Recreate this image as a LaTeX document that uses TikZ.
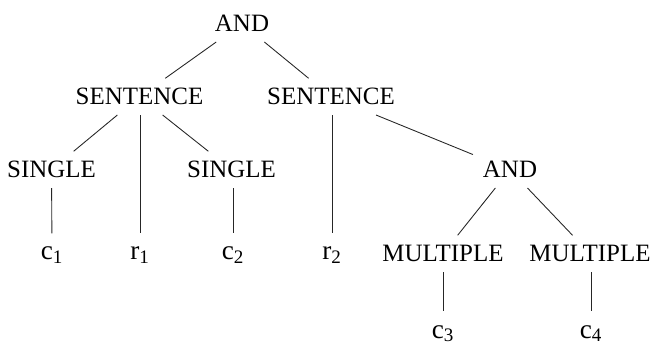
\documentclass[tikz,border=0pt]{standalone}
\usepackage{fontspec}
\setmainfont{Liberation Serif}
\usetikzlibrary{positioning}

\tikzset{
  cat/.style={anchor=base, inner sep=5.5pt, text height=9.5pt, text depth=0pt,
              font=\fontsize{14.2}{17}\selectfont},
  term/.style={cat, font=\fontsize{15.5}{18}\selectfont},
  branch/.style={draw=black!85, line width=0.5pt}
}

\begin{document}
\begin{tikzpicture}[x=0.02cm, y=-0.02cm]
    % Frame
    \useasboundingbox (0,0) rectangle (652,347);

    % Top level
    \node[cat] (and1) at (242,32) {AND};

    % Sentences
    \node[cat] (sentL) at (139.5,105) {SENTENCE};
    \node[cat] (sentR) at (331,105) {SENTENCE};

    % Third row
    \node[cat] (singL) at (51.5,178) {SINGLE};
    \node[cat] (singR) at (231.5,178) {SINGLE};
    \node[cat] (and2) at (510,178) {AND};

    % Leaves and multiples
    \node[term] (c1) at (52,260) {c\textsubscript{1}};
    \node[term] (r1) at (140,260) {r\textsubscript{1}};
    \node[term] (c2) at (233,260) {c\textsubscript{2}};
    \node[term] (r2) at (332,260) {r\textsubscript{2}};
    \node[cat] (multL) at (443,262) {MULTIPLE};
    \node[cat] (multR) at (590,262) {MULTIPLE};
    \node[term] (c3) at (443,338) {c\textsubscript{3}};
    \node[term] (c4) at (591,338) {c\textsubscript{4}};

    % Branches
    \draw[branch] (and1) -- (sentL);
    \draw[branch] (and1) -- (sentR);
    \draw[branch] (sentL) -- (singL);
    \draw[branch] (sentL.south -| r1) -- (r1);
    \draw[branch] (sentL) -- (singR);
    \draw[branch] (singL) -- (c1);
    \draw[branch] (singR.south -| c2) -- (c2);
    \draw[branch] (sentR.south -| r2) -- (r2);
    \draw[branch] (sentR) -- (and2);
    \draw[branch] (and2) -- (multL);
    \draw[branch] (and2) -- (multR);
    \draw[branch] (multL) -- (c3);
    \draw[branch] (multR.south -| c4) -- (c4);
\end{tikzpicture}
\end{document}
